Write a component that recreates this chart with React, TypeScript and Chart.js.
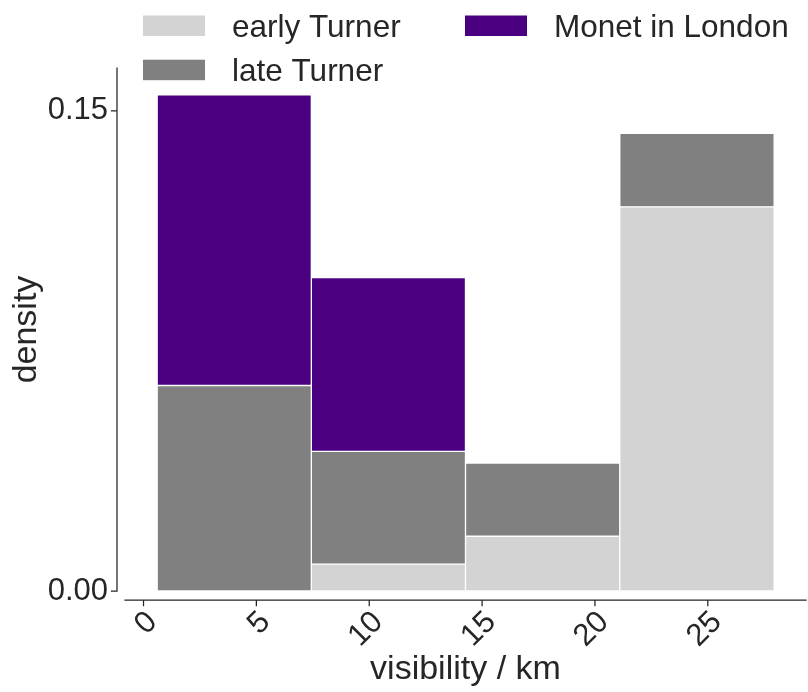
import { useEffect, useRef } from "react";
import { Chart, registerables } from "chart.js";

Chart.register(...registerables);

// ---- data ----
const binCenters = [4.02, 10.85, 17.68, 24.52];
const earlyTurner = [0, 0.0084, 0.0171, 0.12];
const lateTurner = [0.0642, 0.0352, 0.0229, 0.023];
const monetLondon = [0.0908, 0.0543, 0, 0];
const seriesLabels = ["early Turner", "late Turner", "Monet in London"];
const seriesColors = ["#d3d3d3", "#808080", "#4b0082"];
const xTickValues = [0, 5, 10, 15, 20, 25];
const yTickValues = [0, 0.15];
const xRange = [-0.82, 29.35];
const yRange = [0, 0.1634];
const xTitle = "visibility / km";
const yTitle = "density";

const FONT = "'Liberation Sans', Arial, Helvetica, sans-serif";
const INK = "#262626";

const spinesPlugin = {
  id: "spines",
  afterDraw(chart: any) {
    const { ctx, chartArea: a, scales } = chart;
    const xs = scales.x;
    const ys = scales.y;
    const sx = a.left - 8;
    const sy = a.bottom + 9;
    ctx.save();
    ctx.strokeStyle = INK;
    ctx.lineWidth = 1.25;
    ctx.lineCap = "square";
    ctx.beginPath();
    ctx.moveTo(sx, a.top);
    ctx.lineTo(sx, a.bottom);
    ys.ticks.forEach((t: any) => {
      const p = ys.getPixelForValue(t.value);
      ctx.moveTo(sx - 5.5, p);
      ctx.lineTo(sx, p);
    });
    ctx.moveTo(a.left, sy);
    ctx.lineTo(a.right, sy);
    xs.ticks.forEach((t: any) => {
      const p = xs.getPixelForValue(t.value);
      ctx.moveTo(p, sy);
      ctx.lineTo(p, sy + 5.5);
    });
    ctx.stroke();
    ctx.restore();
  },
};

// column-major legend (2 columns), like the reference
const legendPlugin = {
  id: "gridLegend",
  afterDraw(chart: any) {
    const { ctx } = chart;
    const ds = chart.data.datasets;
    const colX = [143, 465];
    const rowBase = [36.5, 80.7];
    const rows = 2;
    ctx.save();
    ctx.font = `31.5px ${FONT}`;
    ctx.textBaseline = "alphabetic";
    ctx.textAlign = "left";
    ds.forEach((d: any, i: number) => {
      const c = Math.floor(i / rows);
      const r = i % rows;
      const x = colX[c];
      const b = rowBase[r];
      ctx.fillStyle = d.backgroundColor;
      ctx.fillRect(x, b - 21, 62, 20.5);
      ctx.fillStyle = INK;
      ctx.fillText(d.label, x + 89, b);
    });
    ctx.restore();
  },
};

export default function App() {
  const ref = useRef<HTMLCanvasElement>(null);
  useEffect(() => {
    document.body.style.margin = "0";
    const canvas = ref.current;
    if (!canvas) return;
    const series = [earlyTurner, lateTurner, monetLondon];
    const chart = new Chart(canvas, {
      type: "bar",
      data: {
        datasets: series.map((vals, i) => ({
          label: seriesLabels[i],
          data: vals.map((v, j) => ({ x: binCenters[j], y: v })),
          backgroundColor: seriesColors[i],
          borderColor: "#ffffff",
          borderWidth: 1,
          borderSkipped: false,
          barThickness: "flex" as any,
          categoryPercentage: 1,
          barPercentage: 1,
        })),
      },
      options: {
        animation: false,
        responsive: false,
        layout: { padding: { top: 68, right: 2, left: 0, bottom: 0 } },
        plugins: {
          legend: { display: false },
          tooltip: { enabled: false },
          title: { display: false },
        },
        scales: {
          x: {
            type: "linear",
            stacked: true,
            min: xRange[0],
            max: xRange[1],
            offset: false,
            grid: { display: false, drawTicks: false },
            border: { display: false },
            afterBuildTicks: (s: any) => {
              s.ticks = xTickValues.map((value) => ({ value }));
            },
            afterFit: (s: any) => {
              s.height = 101;
            },
            ticks: {
              autoSkip: false,
              minRotation: 45,
              maxRotation: 45,
              padding: 13,
              labelOffset: 9,
              color: INK,
              font: { family: FONT, size: 31 },
              callback: (v: any) => String(v),
            },
            title: {
              display: true,
              text: xTitle,
              color: INK,
              font: { family: FONT, size: 34 },
              padding: { top: 0, bottom: 2 },
            },
          },
          y: {
            type: "linear",
            stacked: true,
            min: yRange[0],
            max: yRange[1],
            grid: { display: false, drawTicks: false },
            border: { display: false },
            afterBuildTicks: (s: any) => {
              s.ticks = yTickValues.map((value) => ({ value }));
            },
            afterFit: (s: any) => {
              s.width = 125;
            },
            ticks: {
              padding: 17,
              color: INK,
              font: { family: FONT, size: 31 },
              callback: (v: any) => Number(v).toFixed(2),
            },
            title: {
              display: true,
              text: yTitle,
              color: INK,
              font: { family: FONT, size: 34 },
              padding: { top: 6, bottom: 0 },
            },
          },
        },
      },
      plugins: [spinesPlugin, legendPlugin],
    });
    return () => chart.destroy();
  }, []);
  return (
    <div style={{ width: 808, height: 692 }}>
      <canvas ref={ref} width={808} height={692} style={{ display: "block" }} />
    </div>
  );
}
